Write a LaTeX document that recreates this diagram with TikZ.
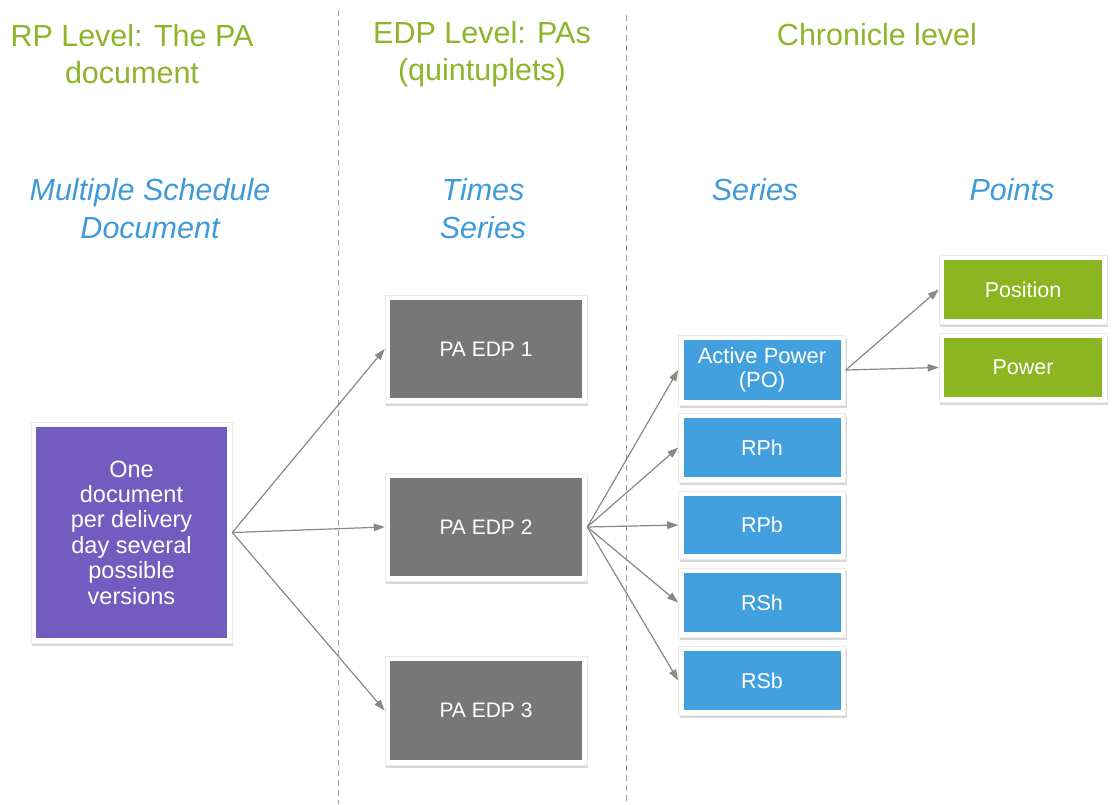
\documentclass[tikz,border=0pt]{standalone}
\usepackage{fontspec}
\setmainfont{Liberation Sans}
\usetikzlibrary{arrows.meta,shadows}
\definecolor{hgreen}{HTML}{8DB52A}
\definecolor{hblue}{HTML}{3E9AD8}
\definecolor{bpurple}{HTML}{735CC0}
\definecolor{bgray}{HTML}{777777}
\definecolor{bblue}{HTML}{42A0DF}
\definecolor{bgreen}{HTML}{8BB521}
\definecolor{lgray}{HTML}{888888}
\tikzset{
  head/.style={text=hgreen,font=\fontsize{30.5}{37}\selectfont,align=center,inner sep=0pt},
  sub/.style={text=hblue,font=\fontsize{30.5}{38}\selectfont\itshape,align=center,inner sep=0pt},
  card/.style={fill=white,draw=black!8,line width=0.6pt,text=white,align=center,inner sep=0pt,
    drop shadow={opacity=0.3,shadow xshift=1pt,shadow yshift=-2.5pt},
    path picture={\fill[#1] ([shift={(5pt,5pt)}]path picture bounding box.south west)
       rectangle ([shift={(-5pt,-5pt)}]path picture bounding box.north east);}},
  conn/.style={draw=lgray,line width=1.2pt,-{Triangle[length=11pt,width=7.5pt]}},
  sep/.style={draw=lgray!80,line width=1pt,dash pattern=on 6pt off 4pt}
}
\begin{document}
\begin{tikzpicture}[x=1pt,y=-1pt]
\useasboundingbox (0,0) rectangle (1113,804);
\fill[white] (0,0) rectangle (1113,804);
% separators
\coordinate (s1t) at (338,10); \coordinate (s1b) at (338,804);
\coordinate (s2t) at (626,15); \coordinate (s2b) at (626,804);
\draw[sep] (s1t) -- (s1b);
\draw[sep] (s2t) -- (s2b);
% headers
\node[head] (h1) at (132,54) {RP Level: The PA\\document};
\node[head] (h2) at (482,54) {EDP Level: PAs\\(quintuplets)};
\node[head] (h3) at (877,35) {Chronicle level};
\node[sub] (t1) at (150,209) {Multiple Schedule\\Document};
\node[sub] (t2) at (483,209) {Times\\Series};
\node[sub] (t3) at (755,190) {Series};
\node[sub] (t4) at (1012,190) {Points};
% boxes
\node[card=bpurple,minimum width=201pt,minimum height=221pt,font=\fontsize{23.5}{25.4}\selectfont] (doc) at (131.5,532.5)
  {One\\document\\per delivery\\day several\\possible\\versions};
\node[card=bgray,minimum width=202pt,minimum height=108pt,font=\fontsize{21}{24}\selectfont] (e1) at (486,349) {PA EDP 1};
\node[card=bgray,minimum width=202pt,minimum height=108pt,font=\fontsize{21}{24}\selectfont] (e2) at (486,527) {PA EDP 2};
\node[card=bgray,minimum width=202pt,minimum height=109pt,font=\fontsize{21}{24}\selectfont] (e3) at (486,710.5) {PA EDP 3};
\node[card=bblue,minimum width=167pt,minimum height=70pt,font=\fontsize{22}{24}\selectfont] (ap) at (762,370) {Active Power\\(PO)};
\node[card=bblue,minimum width=167pt,minimum height=69pt,font=\fontsize{21.5}{24}\selectfont] (rph) at (762,447.5) {RPh};
\node[card=bblue,minimum width=167pt,minimum height=68pt,font=\fontsize{21.5}{24}\selectfont] (rpb) at (762,525) {RPb};
\node[card=bblue,minimum width=167pt,minimum height=69pt,font=\fontsize{21.5}{24}\selectfont] (rsh) at (762,602.5) {RSh};
\node[card=bblue,minimum width=167pt,minimum height=69pt,font=\fontsize{21.5}{24}\selectfont] (rsb) at (762,680.5) {RSb};
\node[card=bgreen,minimum width=168pt,minimum height=69pt,font=\fontsize{21.5}{24}\selectfont] (pos) at (1023,289.5) {Position};
\node[card=bgreen,minimum width=168pt,minimum height=69pt,font=\fontsize{21.5}{24}\selectfont] (pow) at (1023,367.5) {Power};
% connectors
\draw[conn] (doc.east) -- (e1.west);
\draw[conn] (doc.east) -- (e2.west);
\draw[conn] (doc.east) -- (e3.west);
\draw[conn] (e2.east) -- (ap.west);
\draw[conn] (e2.east) -- (rph.west);
\draw[conn] (e2.east) -- (rpb.west);
\draw[conn] (e2.east) -- (rsh.west);
\draw[conn] (e2.east) -- (rsb.west);
\draw[conn] (ap.east) -- (pos.west);
\draw[conn] (ap.east) -- (pow.west);
\end{tikzpicture}
\end{document}
